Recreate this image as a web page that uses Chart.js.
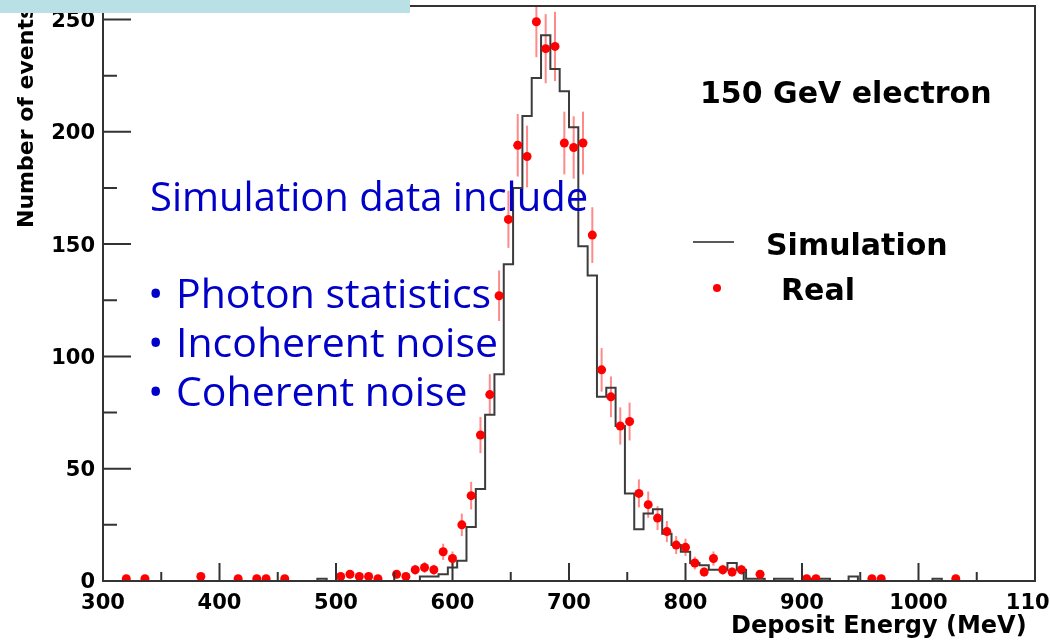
<!DOCTYPE html>
<html>
<head>
<meta charset="utf-8">
<title>150 GeV electron - deposit energy</title>
<script src="https://cdn.jsdelivr.net/npm/chart.js@4.4.1/dist/chart.umd.min.js"></script>
<style>
  html, body { margin: 0; padding: 0; background: #fff; }
  #wrap { width: 1050px; height: 642px; overflow: hidden; }
</style>
</head>
<body>
<div id="wrap"><canvas id="edepChart" width="1050" height="642"></canvas></div>
<script>
// binning of the histograms (MeV)
const xMin = 300;
const xMax = 1100;
const binWidth = 8;

// simulated spectrum, one count per 8 MeV bin starting at 300 MeV
const simCounts = [
  0, 0, 0, 0, 0, 0, 0, 0, 0, 0,
  0, 0, 0, 0, 0, 0, 0, 0, 0, 0,
  0, 0, 0, 1, 0, 0, 0, 0, 0, 0,
  0, 0, 0, 0, 2, 2, 3, 6, 9, 24,
  41, 74, 92, 141, 175, 207, 224, 243, 228, 218,
  202, 149, 136, 82, 86, 69, 39, 23, 30, 32,
  21, 16, 13, 8, 7, 5, 5, 8, 5, 1,
  1, 0, 1, 1, 0, 0, 1, 1, 0, 0,
  2, 0, 0, 0, 0, 0, 0, 0, 0, 1,
  0, 0, 0, 0, 0, 0, 0, 0, 0, 0
];

// measured data (bin centres, counts)
const realEnergy = [320, 336, 384, 416, 432, 440, 456, 504, 512, 520, 528, 536, 552, 560,
  568, 576, 584, 592, 600, 608, 616, 624, 632, 640, 648, 656, 664, 672, 680, 688, 696, 704,
  712, 720, 728, 736, 744, 752, 760, 768, 776, 784, 792, 800, 808, 816, 824, 832, 840, 848,
  864, 904, 912, 960, 968, 1032];
const realCounts = [1, 1, 2, 1, 1, 1, 1, 2, 3, 2, 2, 1, 3, 2,
  5, 6, 5, 13, 10, 25, 38, 65, 83, 127, 161, 194, 189, 249, 237, 238, 195, 193,
  195, 154, 94, 82, 69, 71, 39, 34, 28, 22, 16, 15, 8, 4, 10, 5, 4, 5,
  3, 1, 1, 1, 1, 1];

const yMax = 256;
const xTickStep = 100;
const yTickStep = 50;

const rootFont = "'DejaVu Sans', sans-serif";
const noteFont = "'Open Sans', sans-serif";

const simPoints = simCounts.map((c, i) => ({ x: xMin + i * binWidth, y: c }));
simPoints.push({ x: xMax, y: 0 });
const realPoints = realEnergy.map((e, i) => ({ x: e, y: realCounts[i] }));

// poisson error bars under the markers
const errorBars = {
  id: 'errorBars',
  beforeDatasetsDraw(chart) {
    const { ctx, chartArea, scales: { x, y } } = chart;
    ctx.save();
    ctx.beginPath();
    ctx.rect(chartArea.left, chartArea.top, chartArea.width, chartArea.height);
    ctx.clip();
    ctx.strokeStyle = 'rgba(255, 60, 60, 0.6)';
    ctx.lineWidth = 2;
    realEnergy.forEach((e, i) => {
      const n = realCounts[i];
      const err = Math.sqrt(n);
      const px = x.getPixelForValue(e);
      ctx.beginPath();
      ctx.moveTo(px, y.getPixelForValue(n - err));
      ctx.lineTo(px, y.getPixelForValue(n + err));
      ctx.stroke();
    });
    ctx.restore();
  }
};

// ROOT style frame with ticks pointing inwards
const frameTicks = {
  id: 'frameTicks',
  afterDatasetsDraw(chart) {
    const { ctx, chartArea: a, scales: { x, y } } = chart;
    ctx.save();
    ctx.strokeStyle = '#333';
    ctx.lineWidth = 2;
    ctx.strokeRect(a.left, a.top, a.right - a.left, a.bottom - a.top);
    ctx.beginPath();
    for (let v = xMin; v <= xMax; v += xTickStep / 2) {
      const px = x.getPixelForValue(v);
      const len = v % xTickStep === 0 ? 18 : 9;
      ctx.moveTo(px, a.bottom);
      ctx.lineTo(px, a.bottom - len);
    }
    for (let v = 0; v <= 250; v += yTickStep / 2) {
      const py = y.getPixelForValue(v);
      const len = v % yTickStep === 0 ? 28 : 14;
      ctx.moveTo(a.left, py);
      ctx.lineTo(a.left + len, py);
    }
    ctx.stroke();
    ctx.restore();
  }
};

// legend, labels and the slide notes
const notes = {
  id: 'notes',
  afterDraw(chart) {
    const ctx = chart.ctx;
    ctx.save();
    ctx.textBaseline = 'alphabetic';
    ctx.textAlign = 'left';

    ctx.fillStyle = '#000';
    ctx.font = 'bold 30px ' + rootFont;
    ctx.fillText('150 GeV electron', 700, 103);
    ctx.fillText('Simulation', 766, 255);
    ctx.fillText('Real', 781, 300);

    ctx.strokeStyle = '#222';
    ctx.lineWidth = 1.5;
    ctx.beginPath();
    ctx.moveTo(693, 242);
    ctx.lineTo(734, 242);
    ctx.stroke();
    ctx.fillStyle = '#ff0000';
    ctx.beginPath();
    ctx.arc(717, 288, 4, 0, Math.PI * 2);
    ctx.fill();

    ctx.fillStyle = '#0000c8';
    ctx.font = '40px ' + noteFont;
    ctx.fillText('Simulation data include', 150, 211);
    ctx.font = '41px ' + noteFont;
    const bullets = ['Photon statistics', 'Incoherent noise', 'Coherent noise'];
    bullets.forEach((t, i) => {
      const base = 308 + i * 49;
      ctx.fillText('\u2022', 148, base);
      ctx.fillText(t, 176, base);
    });

    // slide header strip
    ctx.fillStyle = '#b9e0e4';
    ctx.fillRect(0, 0, 410, 13);
    ctx.restore();
  }
};

new Chart(document.getElementById('edepChart'), {
  type: 'scatter',
  data: {
    datasets: [
      {
        label: 'Real',
        data: realPoints,
        backgroundColor: '#ff0000',
        borderWidth: 0,
        pointRadius: 4.5,
        pointHoverRadius: 4.5
      },
      {
        type: 'line',
        label: 'Simulation',
        data: simPoints,
        stepped: true,
        showLine: true,
        borderColor: '#3c3c3c',
        borderWidth: 2,
        pointRadius: 0,
        fill: false
      }
    ]
  },
  options: {
    responsive: false,
    animation: false,
    layout: { padding: { top: 6, right: 15, left: 0, bottom: 0 } },
    plugins: {
      legend: { display: false },
      tooltip: { enabled: false }
    },
    scales: {
      x: {
        type: 'linear',
        min: xMin,
        max: xMax,
        grid: { display: false, drawTicks: false },
        border: { display: false },
        ticks: {
          stepSize: xTickStep,
          padding: 10,
          color: '#000',
          font: { family: rootFont, size: 21, weight: 'bold' },
          maxRotation: 0,
          callback: (v) => String(v)
        },
        title: {
          display: true,
          text: 'Deposit Energy (MeV) ',
          align: 'end',
          color: '#000',
          font: { family: rootFont, size: 24, weight: 'bold' },
          padding: { top: 0, bottom: 1 }
        },
        afterFit(scale) {
          scale.height = 61;
          scale.paddingLeft = 0;
          scale.paddingRight = 0;
        }
      },
      y: {
        min: 0,
        max: yMax,
        grid: { display: false, drawTicks: false },
        border: { display: false },
        ticks: {
          stepSize: yTickStep,
          includeBounds: false,
          padding: 8,
          labelOffset: 2,
          color: '#000',
          font: { family: rootFont, size: 21, weight: 'bold' },
          callback: (v) => String(v)
        },
        title: {
          display: true,
          text: 'Number of events',
          align: 'end',
          color: '#000',
          font: { family: rootFont, size: 22, weight: 'bold' },
          padding: { top: 14, bottom: 0 }
        },
        afterFit(scale) {
          scale.width = 103;
          scale.paddingTop = 0;
          scale.paddingBottom = 0;
        }
      }
    }
  },
  plugins: [errorBars, frameTicks, notes]
});
</script>
</body>
</html>
